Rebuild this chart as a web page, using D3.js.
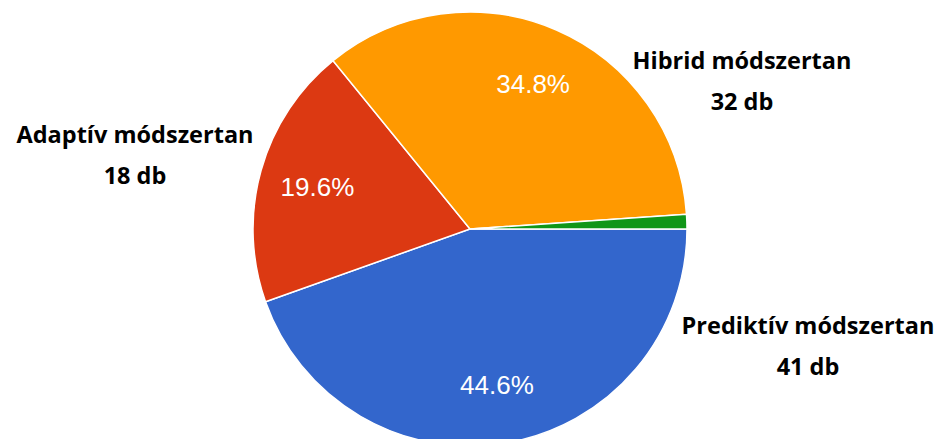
<!DOCTYPE html>
<html><head><meta charset="utf-8">
<script src="https://cdn.jsdelivr.net/npm/d3@7"></script>
<style>body{margin:0;background:#fff}svg{display:block}</style>
</head><body>
<svg id="c" width="940" height="439"></svg>
<script>
const categories = ["Prediktív módszertan", "Adaptív módszertan", "Hibrid módszertan", "Egyéb"];
const counts = [41, 18, 32, 1];
const percentLabels = ["44.6%", "19.6%", "34.8%", ""];
const colors = ["#3366cc", "#dc3912", "#ff9900", "#109618"];
const outerLabels = [
  {name: "Prediktív módszertan", count: "41 db", x: 808, y: 326},
  {name: "Adaptív módszertan", count: "18 db", x: 135, y: 135},
  {name: "Hibrid módszertan", count: "32 db", x: 742, y: 61}
];

const svg = d3.select("#c");
const cx = 470, cy = 229, r = 217;
const data = categories.map((c, i) => ({cat: c, value: counts[i], pct: percentLabels[i], color: colors[i]}));
const pie = d3.pie().value(d => d.value).sort(null).startAngle(Math.PI / 2).endAngle(Math.PI / 2 + 2 * Math.PI);
const arcs = pie(data);
const arc = d3.arc().innerRadius(0).outerRadius(r);
const labelArc = d3.arc().innerRadius(r * 0.73).outerRadius(r * 0.73);
const g = svg.append("g").attr("transform", `translate(${cx},${cy})`);
g.selectAll("path").data(arcs).join("path")
  .attr("d", arc).attr("fill", d => d.data.color)
  .attr("stroke", "#fff").attr("stroke-width", 1.5);
g.selectAll("text").data(arcs).join("text")
  .attr("transform", d => `translate(${labelArc.centroid(d)})`)
  .attr("text-anchor", "middle").attr("dy", "0.36em")
  .attr("font-family", "Arial, 'Liberation Sans', sans-serif").attr("font-size", 26)
  .attr("fill", "#fff").text(d => d.data.pct);

const lg = svg.append("g").attr("font-family", "'Open Sans', Lato, sans-serif")
  .attr("font-weight", "bold").attr("font-size", 23.5).attr("fill", "#000").attr("text-anchor", "middle");
outerLabels.forEach(l => {
  lg.append("text").attr("x", l.x).attr("y", l.y).attr("dy", "0.35em").text(l.name);
  lg.append("text").attr("x", l.x).attr("y", l.y + 41).attr("dy", "0.35em").text(l.count);
});
</script>
</body></html>
